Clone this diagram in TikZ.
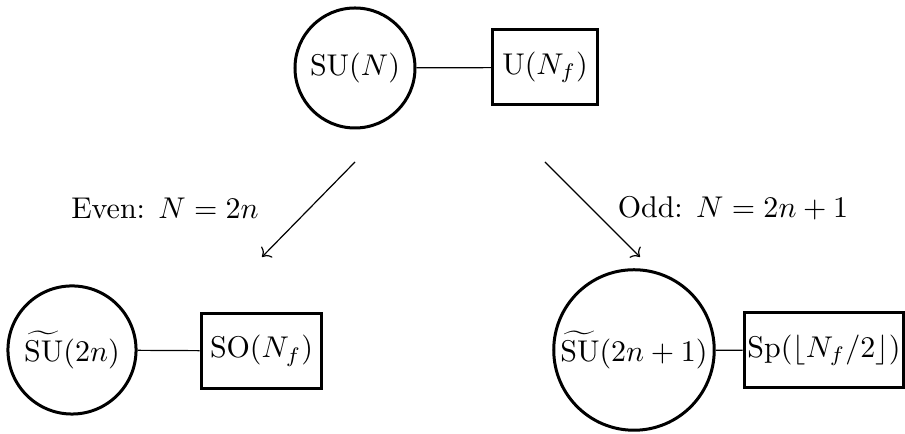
\documentclass[tikz,border=0pt]{standalone}
\usetikzlibrary{arrows.meta}
\begin{document}
\begin{tikzpicture}[x=0.33333pt,y=-0.33333pt,
  gauge/.style={circle,draw,line width=1pt,inner sep=0pt},
  flavor/.style={rectangle,draw,line width=1pt,inner sep=0pt},
  link/.style={draw,line width=0.4pt},
  branch/.style={draw,line width=0.4pt,->}]
\useasboundingbox (0,0) rectangle (905,434);
\begin{scope}
\clip (0,0) rectangle (905,434);
\node[gauge,minimum size=40pt] (top) at (355,68) {$\mathrm{SU}(N)$};
\node[flavor,minimum width=34.7pt,minimum height=25pt] (topf) at (545,67.5) {$\mathrm{U}(N_f)$};
\draw[link] (top) -- (topf);

\node[gauge,minimum size=42.7pt] (ev) at (72,350) {$\widetilde{\mathrm{SU}}(2n)$};
\node[flavor,minimum width=40.3pt,minimum height=25.3pt] (evf) at (261.5,351) {$\mathrm{SO}(N_f)$};
\draw[link] (ev) -- (evf);

\node[gauge,minimum size=53.5pt] (od) at (634,350) {$\widetilde{\mathrm{SU}}(2n+1)$};
\node[flavor,minimum width=53.3pt,minimum height=25pt] (odf) at (824,350.5) {$\mathrm{Sp}(\lfloor N_f/2\rfloor)$};
\draw[link] (od) -- (odf);

\coordinate (a1) at (355,162);
\coordinate (a2) at (262,257);
\coordinate (b1) at (545,162);
\coordinate (b2) at (640,257);
\draw[branch] (a1) -- (a2);
\draw[branch] (b1) -- (b2);
\node (evl) at (165,208) {Even: $N=2n$};
\node (odl) at (733,208) {Odd: $N=2n+1$};
\end{scope}
\end{tikzpicture}
\end{document}
